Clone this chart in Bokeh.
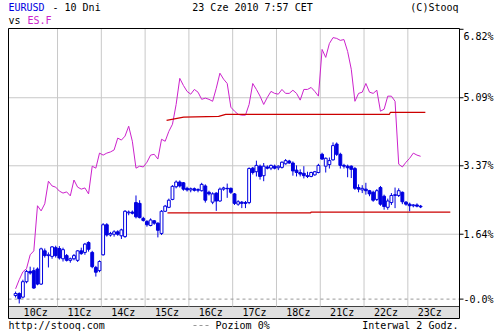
from bokeh.plotting import figure
from bokeh.models import ColumnDataSource, Range1d
from bokeh.core.properties import value
from bokeh.embed import file_html
from bokeh.resources import INLINE

# ---------------- data ----------------
days = ["10Cz", "11Cz", "14Cz", "15Cz", "16Cz", "17Cz", "18Cz", "21Cz", "22Cz", "23Cz"]
bars_per_day = 12          # 2-hour bars
hours_per_bar = 2

# EURUSD, % change, 2h candles (open, high, low, close)
eur_open = [
    0.09, 0.14, 0.05, 0.44, 0.70, 0.72, 0.76, 0.38, 1.22, 1.10, 1.08, 1.30,
    1.28, 1.02, 1.10, 0.98, 1.02, 0.98, 1.22, 1.18, 1.43, 1.18, 0.80, 0.72,
    1.12, 1.88, 1.62, 1.64, 1.70, 1.60, 1.58, 2.18, 2.20, 2.44, 2.42, 2.04,
    1.96, 1.86, 1.98, 1.92, 1.66, 2.22, 2.32, 2.52, 2.84, 2.96, 2.94, 2.80,
    2.76, 2.79, 2.75, 2.74, 2.86, 2.70, 2.45, 2.68, 2.48, 2.78, 2.80, 2.80,
    2.66, 2.40, 2.45, 2.44, 2.44, 3.31, 3.22, 3.36, 3.12, 3.34, 3.31, 3.36,
    3.32, 3.33, 3.42, 3.49, 3.44, 3.26, 3.20, 3.18, 3.12, 3.10, 3.14, 3.20,
    3.66, 3.36, 3.40, 3.52, 3.92, 3.66, 3.38, 3.36, 3.36, 3.30, 2.82, 2.76,
    2.78, 2.74, 2.70, 2.52, 2.82, 2.60, 2.32, 2.44, 2.62, 2.62, 2.70, 2.45,
    2.40, 2.36, 2.38, 2.35,
]
eur_high = [
    0.19, 0.17, 0.49, 0.74, 0.82, 0.80, 0.80, 1.30, 1.28, 1.18, 1.34, 1.35,
    1.34, 1.30, 1.14, 1.05, 1.14, 1.24, 1.30, 1.42, 1.46, 1.22, 0.84, 0.98,
    1.92, 1.92, 1.70, 1.74, 1.74, 1.78, 2.25, 2.24, 2.24, 2.62, 2.50, 2.08,
    2.00, 2.04, 2.00, 1.94, 2.25, 2.38, 2.54, 2.88, 3.00, 3.00, 2.96, 2.84,
    2.82, 2.82, 2.80, 2.94, 2.90, 2.74, 2.70, 2.70, 2.82, 2.84, 2.92, 2.82,
    2.68, 2.50, 2.48, 2.48, 3.33, 3.34, 3.50, 3.40, 3.44, 3.38, 3.40, 3.40,
    3.38, 3.48, 3.54, 3.52, 3.48, 3.38, 3.28, 3.36, 3.22, 3.22, 3.24, 3.42,
    3.70, 3.58, 3.58, 3.96, 3.96, 3.70, 3.42, 3.40, 3.38, 3.34, 2.90, 2.88,
    2.94, 2.76, 2.74, 2.78, 2.86, 2.64, 2.54, 2.68, 2.82, 2.80, 2.72, 2.48,
    2.44, 2.40, 2.42, 2.38,
]
eur_low = [
    0.04, -0.11, 0.02, 0.40, 0.62, 0.26, 0.35, 0.36, 1.05, 0.80, 1.02, 1.05,
    1.00, 0.95, 0.95, 0.92, 0.98, 0.94, 1.12, 1.12, 1.20, 0.78, 0.57, 0.68,
    1.10, 1.58, 1.58, 1.58, 1.60, 1.52, 1.55, 2.12, 2.14, 2.04, 2.04, 1.96,
    1.83, 1.84, 1.88, 1.56, 1.62, 2.20, 2.30, 2.50, 2.80, 2.82, 2.74, 2.72,
    2.70, 2.72, 2.70, 2.72, 2.44, 2.62, 2.40, 2.23, 2.46, 2.74, 2.56, 2.66,
    2.38, 2.36, 2.30, 2.30, 2.40, 3.15, 3.10, 3.02, 2.98, 3.28, 3.26, 3.28,
    3.26, 3.30, 3.40, 3.42, 3.12, 3.10, 3.10, 3.05, 3.06, 3.08, 3.12, 3.18,
    3.52, 3.20, 3.30, 3.50, 3.62, 3.30, 3.30, 3.08, 3.06, 2.76, 2.70, 2.68,
    2.64, 2.60, 2.46, 2.48, 2.36, 2.26, 2.26, 2.38, 2.30, 2.58, 2.40, 2.36,
    2.22, 2.32, 2.32, 2.30,
]
eur_close = [
    0.14, 0.01, 0.44, 0.70, 0.66, 0.28, 0.38, 1.27, 1.10, 1.12, 1.32, 1.10,
    1.04, 1.25, 0.98, 1.02, 1.10, 1.22, 1.15, 1.39, 1.26, 0.82, 0.68, 0.95,
    1.88, 1.62, 1.66, 1.70, 1.64, 1.75, 2.22, 2.20, 2.17, 2.08, 2.06, 1.99,
    1.88, 2.00, 1.92, 1.74, 2.22, 2.35, 2.50, 2.85, 2.96, 2.86, 2.78, 2.76,
    2.79, 2.75, 2.77, 2.90, 2.50, 2.66, 2.66, 2.48, 2.78, 2.81, 2.79, 2.70,
    2.42, 2.46, 2.42, 2.42, 3.30, 3.20, 3.38, 3.10, 3.36, 3.31, 3.38, 3.31,
    3.36, 3.46, 3.50, 3.44, 3.24, 3.20, 3.16, 3.12, 3.10, 3.20, 3.22, 3.38,
    3.54, 3.56, 3.50, 3.88, 3.66, 3.38, 3.36, 3.32, 3.28, 2.80, 2.78, 2.80,
    2.74, 2.66, 2.50, 2.74, 2.40, 2.34, 2.48, 2.62, 2.64, 2.74, 2.46, 2.40,
    2.36, 2.38, 2.35, 2.33,
]
# ES.F, % change at the same 2h steps
es_close = [
    0.26, 0.49, 0.69, 0.77, 1.12, 1.22, 2.36, 2.23, 2.41, 2.98, 2.86, 2.83,
    2.73, 2.68, 2.71, 2.61, 3.01, 2.83, 2.78, 2.81, 2.66, 3.36, 3.31, 3.69,
    3.64, 3.69, 3.72, 3.77, 4.07, 4.02, 4.12, 4.37, 3.99, 3.31, 3.36, 3.34,
    3.46, 3.64, 3.66, 3.54, 4.04, 3.99, 4.24, 4.42, 4.92, 5.58, 5.40, 5.25,
    5.18, 5.30, 5.23, 5.05, 5.08, 5.05, 5.00, 5.33, 5.71, 5.56, 5.45, 4.85,
    4.75, 4.67, 4.65, 4.65, 4.92, 5.45, 5.30, 5.13, 4.92, 5.10, 5.25, 5.20,
    5.18, 5.30, 5.20, 5.20, 5.28, 5.20, 5.03, 5.30, 5.30, 5.35, 5.25, 5.13,
    6.31, 6.11, 6.46, 6.61, 6.59, 6.54, 6.56, 6.26, 5.81, 5.00, 5.20, 5.23,
    5.45, 5.23, 5.20, 5.28, 4.75, 4.80, 5.13, 5.13, 5.00, 3.41, 3.34, 3.46,
    3.56, 3.69, 3.64, 3.61,
]
# red reference lines (time in days from 10Cz 00:00, % level)
es_level_t = [3.49, 3.88, 4.68, 4.84, 8.58, 8.60, 9.40]
es_level_v = [4.52, 4.60, 4.62, 4.67, 4.67, 4.72, 4.72]
eur_level_t = [3.51, 6.78, 6.79, 9.97]
eur_level_v = [2.18, 2.18, 2.20, 2.20]

tick_values = [0.0, 1.64, 3.37, 5.09, 6.82]
tick_labels = ["-0.0%", "1.64%", "3.37%", "5.09%", "6.82%"]

# ---------------- styling / layout ----------------
BLUE = "#0000e0"
MAGENTA = "#cc22cc"
RED = "#cc0000"
GRID = "#c8c8c8"
FONT = value("DejaVu Sans Mono")
FS = "10px"

W, H = 500, 333
FRAME_L, FRAME_R, FRAME_T, FRAME_B = 8, 459, 28, 318   # chart box in pixels
BAND_PX = 12                                           # date band height
X_START, X_END = -0.12, 10.18
Y_MIN, Y_MAX = -0.49, 6.84
PXD = (FRAME_R - FRAME_L) / (X_END - X_START)          # pixels per day
PYP = (FRAME_B - FRAME_T) / (Y_MAX - Y_MIN)            # pixels per %
Y_BAND = Y_MIN + BAND_PX / PYP

def dx(px):   # canvas pixel -> x data
    return X_START + (px - FRAME_L) / PXD

def dy(py):   # canvas pixel -> y data
    return Y_MAX - (py - FRAME_T) / PYP

p = figure(width=W, height=H, x_range=Range1d(dx(0), dx(W)), y_range=Range1d(dy(H), dy(0)),
           x_axis_location=None, y_axis_location=None, output_backend="svg",
           toolbar_location=None, min_border=0)
p.grid.visible = False
p.outline_line_color = None
p.background_fill_color = "white"
p.border_fill_color = "white"

# ---------------- derived ----------------
n = len(eur_close)
t = [(i // bars_per_day) + ((i % bars_per_day) * hours_per_bar + hours_per_bar / 2) / 24.0 for i in range(n)]
body_top = [max(o, c) for o, c in zip(eur_open, eur_close)]
body_bot = [min(o, c) for o, c in zip(eur_open, eur_close)]
body_fill = ["white" if c >= o else BLUE for o, c in zip(eur_open, eur_close)]

# date band
p.quad(left=[X_START], right=[X_END], bottom=[Y_MIN], top=[Y_BAND], fill_color="#e0e0e0", line_color=None)
p.segment(x0=[X_START], x1=[X_END], y0=[Y_BAND], y1=[Y_BAND], line_color="#404040", line_width=1)
label_x = [(max(d, X_START) + min(d + 1, X_END)) / 2 for d in range(len(days))]
p.text(x=label_x, y=[(Y_MIN + Y_BAND) / 2] * len(days), text=days, text_align="center",
       text_baseline="middle", text_font=FONT, text_font_size=FS, text_color="black")

# grid
bounds = list(range(1, len(days)))
p.segment(x0=bounds, x1=bounds, y0=[Y_BAND] * len(bounds), y1=[Y_MAX] * len(bounds), line_color=GRID, line_width=1)
gv = tick_values[1:-1]
p.segment(x0=[X_START] * len(gv), x1=[X_END] * len(gv), y0=gv, y1=gv, line_color=GRID, line_width=1)
p.segment(x0=[X_START], x1=[X_END], y0=[0.0], y1=[0.0], line_color="#999999", line_width=1, line_dash="3 3")

# ES.F line
p.line(t, es_close, line_color=MAGENTA, line_width=1)
# reference lines
p.line(es_level_t, es_level_v, line_color=RED, line_width=1.2)
p.line(eur_level_t, eur_level_v, line_color=RED, line_width=1.2)

# candles
src = ColumnDataSource(dict(t=t, h=eur_high, l=eur_low, top=body_top, bot=body_bot, fill=body_fill))
p.segment(x0="t", x1="t", y0="h", y1="l", source=src, line_color=BLUE, line_width=1)
p.vbar(x="t", width=0.065, top="top", bottom="bot", source=src, fill_color="fill", line_color=BLUE, line_width=1)

# chart box
p.quad(left=[X_START], right=[X_END], bottom=[Y_MIN], top=[Y_MAX], fill_color=None, line_color="black", line_width=1)

# right value axis: tick marks + labels
nt = len(tick_values)
p.segment(x0=[X_END] * nt, x1=[X_END + 4 / PXD] * nt, y0=tick_values, y1=tick_values, line_color="black", line_width=1)
yoff = [0] * (nt - 1) + [7]
p.text(x=[X_END + 4 / PXD] * nt, y=tick_values, text=tick_labels, y_offset=yoff, text_align="left",
       text_baseline="middle", text_font=FONT, text_font_size=FS, text_color="black")

# header / footer texts
def lab(txt, cx, cy, color="black", align="left"):
    p.text(x=[dx(cx)], y=[dy(cy)], text=[txt], text_color=color, text_font=FONT, text_font_size=FS,
           text_align=align, text_baseline="middle")

lab("EURUSD", 8, 7, BLUE)
lab("- 10 Dni", 52, 7)
lab("23 Cze 2010 7:57 CET", 252, 7, align="center")
lab("(C)Stooq", 458, 7, align="right")
lab("vs", 8, 20)
lab("ES.F", 27, 20, MAGENTA)
lab("http://stooq.com", 8, 325)
p.segment(x0=[dx(193)], x1=[dx(210)], y0=[dy(325)], y1=[dy(325)], line_color="#999999", line_width=1, line_dash="3 3")
lab("Poziom 0%", 215, 325)
lab("Interwal 2 Godz.", 458, 325, align="right")

open("out.html", "w").write(file_html(p, INLINE))
